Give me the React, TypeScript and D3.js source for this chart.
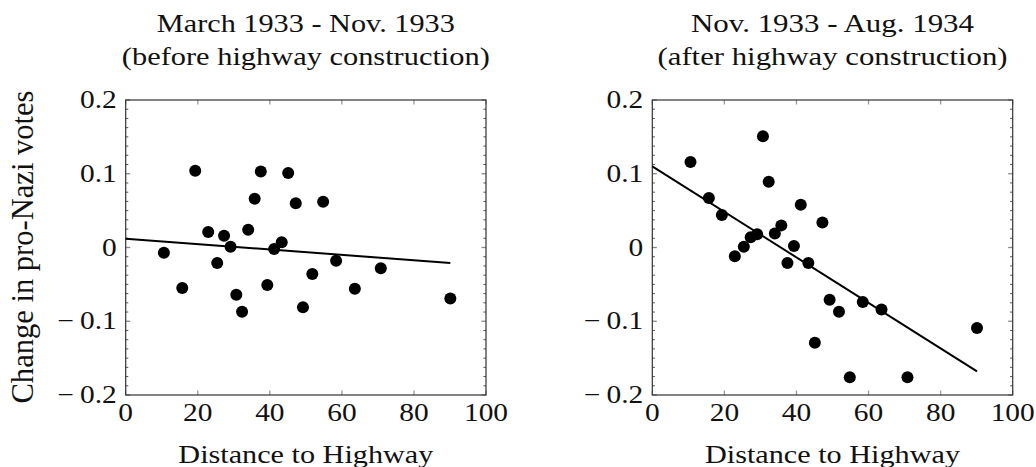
import React from 'react';
import * as d3 from 'd3';

// distance to highway (same municipalities in both periods)
const distance = [10.6, 15.7, 19.3, 22.9, 25.4, 27.3, 29.1, 30.7, 32.3, 34.0, 35.8, 37.5,
  39.3, 41.2, 43.3, 45.1, 47.2, 49.2, 51.8, 54.8, 58.4, 63.6, 70.8, 90.1];

const changeBefore = [-0.007, -0.055, 0.104, 0.021, -0.021, 0.016, 0.001, -0.064, -0.087, 0.024,
  0.066, 0.103, -0.051, -0.002, 0.007, 0.101, 0.060, -0.081, -0.036, 0.062, -0.018, -0.056,
  -0.028, -0.069];

const changeAfter = [0.116, 0.067, 0.044, -0.012, 0.001, 0.014, 0.018, 0.151, 0.089, 0.019,
  0.030, -0.021, 0.002, 0.058, -0.021, -0.129, 0.034, -0.071, -0.087, -0.176, -0.074, -0.084,
  -0.176, -0.109];

// fitted lines, evaluated at the ends of the distance range
const fitX = [0, 90.1];
const fitBefore = [0.012, -0.021];
const fitAfter = [0.110, -0.168];

const xTicks = [0, 20, 40, 60, 80, 100];
const yTicks = [-0.2, -0.1, 0, 0.1, 0.2];

const titlesBefore = ['March 1933 - Nov. 1933', '(before highway construction)'];
const titlesAfter = ['Nov. 1933 - Aug. 1934', '(after highway construction)'];
const xLabel = 'Distance to Highway';
const yLabel = 'Change in pro-Nazi votes';

const FONT = '"Liberation Serif", serif';
const TOP = 100;
const BOTTOM = 395;
const SX = 1.2; // the source figure is stretched sideways

// wide minus like the TeX one
const fmtY = (v: number) => (v === 0 ? '0' : d3.format('.1f')(v).replace('\u2212', '\u2212\u2009'));

interface PanelProps {
  left: number;
  right: number;
  values: number[];
  fit: number[];
  titles: string[];
  titleWidths: number[];
  showYLabel?: boolean;
}

const Panel: React.FC<PanelProps> = ({ left, right, values, fit, titles, titleWidths, showYLabel }) => {
  const x = d3.scaleLinear().domain([0, 100]).range([left, right]);
  const y = d3.scaleLinear().domain([-0.2, 0.2]).range([BOTTOM, TOP]);
  const cx = (left + right) / 2;

  const minor = d3.range(-0.2, 0.2001, 0.0125).filter(v => Math.abs(v * 10 - Math.round(v * 10)) > 1e-6);
  const line = d3.line<number>().x((_, i) => x(fitX[i])).y(d => y(d));

  return (
    <g>
      {/* title */}
      {titles.map((t, i) => (
        <text key={t} x={cx} y={i === 0 ? 31.5 : 64.5} textAnchor="middle" fontFamily={FONT}
          fontSize={24.5} fill="#111" textLength={titleWidths[i]} lengthAdjust="spacingAndGlyphs">
          {t}
        </text>
      ))}

      {/* minor y ticks */}
      {minor.map(v => (
        <g key={'m' + v} stroke="#555" strokeWidth={1}>
          <line x1={left} x2={left + 2.6} y1={y(v)} y2={y(v)} />
          <line x1={right} x2={right - 2.6} y1={y(v)} y2={y(v)} />
        </g>
      ))}
      {/* major ticks */}
      {yTicks.map(v => (
        <g key={'y' + v} stroke="#888" strokeWidth={1.3}>
          <line x1={left} x2={left + 4.5} y1={y(v)} y2={y(v)} />
          <line x1={right} x2={right - 4.5} y1={y(v)} y2={y(v)} />
        </g>
      ))}
      {xTicks.map(v => (
        <g key={'x' + v} stroke="#999" strokeWidth={1.3}>
          <line x1={x(v)} x2={x(v)} y1={BOTTOM} y2={BOTTOM - 4.5} />
          <line x1={x(v)} x2={x(v)} y1={TOP} y2={TOP + 4.5} />
        </g>
      ))}

      {/* frame */}
      <rect x={left} y={TOP} width={right - left} height={BOTTOM - TOP} fill="none" stroke="#333" strokeWidth={1.2} />

      {/* tick labels */}
      {yTicks.map(v => (
        <text key={'yl' + v} transform={`translate(${left - 9},${y(v) + 8}) scale(${SX},1)`}
          textAnchor="end" fontFamily={FONT} fontSize={24.5} fill="#111">
          {fmtY(v)}
        </text>
      ))}
      {xTicks.map(v => (
        <text key={'xl' + v} transform={`translate(${x(v)},${421}) scale(${SX},1)`}
          textAnchor="middle" fontFamily={FONT} fontSize={24.5} fill="#111">
          {v}
        </text>
      ))}

      {/* axis labels */}
      <text x={cx} y={463} textAnchor="middle" fontFamily={FONT} fontSize={24.5} fill="#111"
        textLength={255} lengthAdjust="spacingAndGlyphs">
        {xLabel}
      </text>
      {showYLabel && (
        <text transform={`translate(33,${(TOP + BOTTOM) / 2 - 0.5}) rotate(-90)`} textAnchor="middle"
          fontFamily={FONT} fontSize={31} fill="#111" textLength={313} lengthAdjust="spacingAndGlyphs">
          {yLabel}
        </text>
      )}

      {/* fit line */}
      <path d={line(fit) || ''} fill="none" stroke="#000" strokeWidth={2} />

      {/* points */}
      {values.map((v, i) => (
        <circle key={i} cx={x(distance[i])} cy={y(v)} r={6} fill="#000" />
      ))}
    </g>
  );
};

const App: React.FC = () => (
  <svg width={1036} height={467} viewBox="0 0 1036 467"
    style={{ position: 'absolute', left: 0, top: 0, background: '#fff' }}>
    <rect width={1036} height={467} fill="#fff" />
    <Panel left={125.7} right={486} values={changeBefore} fit={fitBefore}
      titles={titlesBefore} titleWidths={[298, 368]} showYLabel />
    <Panel left={652.3} right={1012.7} values={changeAfter} fit={fitAfter}
      titles={titlesAfter} titleWidths={[283, 350]} />
  </svg>
);

export default App;
